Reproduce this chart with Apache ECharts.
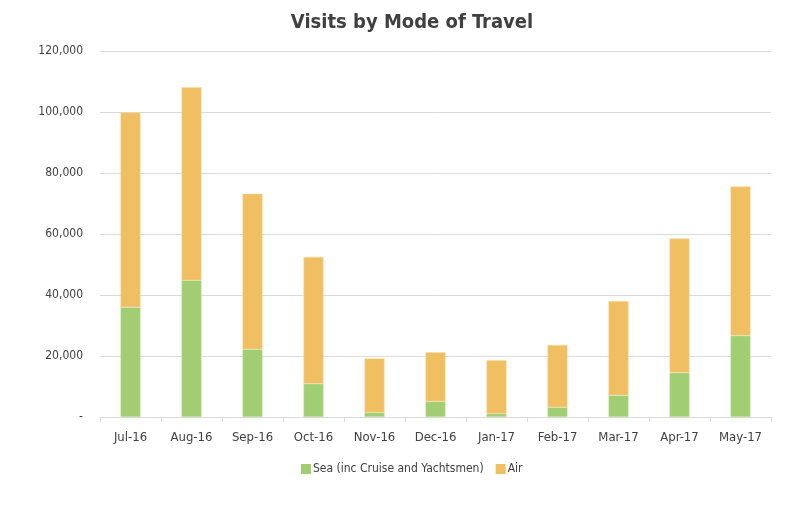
<!DOCTYPE html>
<html>
<head>
<meta charset="utf-8">
<script src="https://cdn.jsdelivr.net/npm/echarts@6/dist/echarts.min.js"></script>
<style>
html,body{margin:0;padding:0;background:#fff;}
#chart{width:802px;height:520px;}
</style>
</head>
<body>
<div id="chart"></div>
<script>
const categories = ['Jul-16','Aug-16','Sep-16','Oct-16','Nov-16','Dec-16','Jan-17','Feb-17','Mar-17','Apr-17','May-17'];
const seaValues = [36000, 44800, 22200, 10900, 1500, 5100, 1100, 3200, 7100, 14500, 26700];
const airValues = [63800, 63300, 51000, 41600, 17700, 16100, 17500, 20400, 30900, 44000, 48900];
const seriesNames = ['Sea (inc Cruise and Yachtsmen)', 'Air'];

const FONT = '"DejaVu Sans Condensed", "Liberation Sans Narrow", "Arial Narrow", sans-serif';
const chart = echarts.init(document.getElementById('chart'));
chart.setOption({
  animation: false,
  backgroundColor: '#fff',
  title: {
    text: 'Visits by Mode of Travel',
    left: 407,
    textAlign: 'center',
    top: 8,
    textStyle: { fontFamily: FONT, fontSize: 20, fontWeight: 'bold', color: '#404040' }
  },
  legend: {
    data: seriesNames,
    top: 458,
    left: 296,
    itemWidth: 10,
    itemHeight: 10,
    itemGap: 12,
    icon: 'rect',
    itemStyle: { borderWidth: 0 },
    textStyle: { fontFamily: FONT, fontSize: 12, color: '#404040', padding: [0,0,0,-3] }
  },
  grid: { left: 100, right: 31, top: 51, bottom: 103, containLabel: false },
  xAxis: {
    type: 'category',
    data: categories,
    axisLine: { lineStyle: { color: '#d9d9d9', width: 1 } },
    axisTick: { show: true, length: 5, lineStyle: { color: '#d9d9d9' } },
    axisLabel: { fontFamily: FONT, fontSize: 13, color: '#404040', margin: 14 }
  },
  yAxis: {
    type: 'value',
    min: 0,
    max: 120000,
    interval: 20000,
    axisLine: { show: false },
    axisTick: { show: false },
    splitLine: { lineStyle: { color: '#d9d9d9', width: 1 } },
    axisLabel: {
      fontFamily: FONT, fontSize: 12, color: '#404040', margin: 17,
      formatter: function (v) { return v === 0 ? '-' : v.toLocaleString('en-US'); }
    }
  },
  series: [
    {
      name: seriesNames[0], type: 'bar', stack: 'total', data: seaValues,
      barWidth: 20,
      itemStyle: { color: '#a1ce72', borderColor: '#c9e4ad', borderWidth: 0.5 }
    },
    {
      name: seriesNames[1], type: 'bar', stack: 'total', data: airValues,
      barWidth: 20,
      itemStyle: { color: '#f0bf61', borderColor: '#f7dca8', borderWidth: 0.5 }
    }
  ]
});
</script>
</body>
</html>
